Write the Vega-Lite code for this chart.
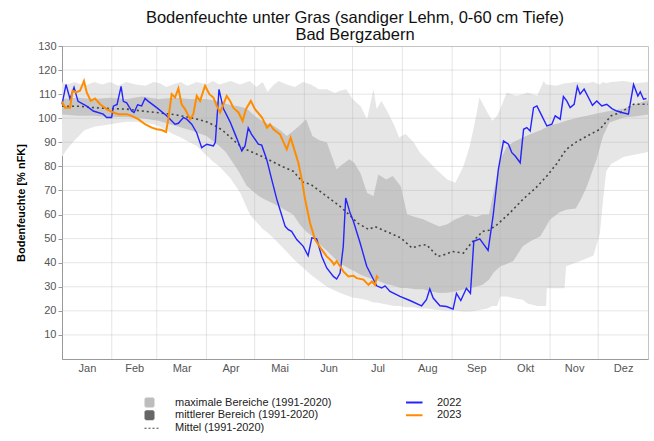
{
  "$schema": "https://vega.github.io/schema/vega-lite/v6.json",
  "autosize": "none",
  "width": 586,
  "height": 313,
  "padding": {"left": 62, "top": 46, "right": 6, "bottom": 82},
  "background": "white",
  "title": {
    "text": ["Bodenfeuchte unter Gras (sandiger Lehm, 0-60 cm Tiefe)", "Bad Bergzabern"],
    "fontSize": 16.5, "fontWeight": "normal", "font": "Liberation Sans", "color": "#111",
    "lineHeight": 17, "anchor": "middle", "offset": -3
  },
  "config": {
    "font": "Liberation Sans",
    "view": {"stroke": "#c4c4c4", "strokeWidth": 1},
    "axisY": {"labelOverlap": false}
  },
  "datasets": {
    "vgrid": [{"day": 31}, {"day": 59}, {"day": 90}, {"day": 120}, {"day": 151}, {"day": 181}, {"day": 212}, {"day": 243}, {"day": 273}, {"day": 304}, {"day": 334}],
    "hgrid": [{"v": 10}, {"v": 20}, {"v": 30}, {"v": 40}, {"v": 50}, {"v": 60}, {"v": 70}, {"v": 80}, {"v": 90}, {"v": 100}, {"v": 110}, {"v": 120}],
    "maxr": [
      {"day": 0, "v": 84, "hi": 115}, {"day": 3, "v": 87, "hi": 114}, {"day": 8, "v": 91, "hi": 115},
      {"day": 14, "v": 95, "hi": 113.5}, {"day": 20, "v": 96.5, "hi": 115}, {"day": 25, "v": 97, "hi": 114},
      {"day": 30, "v": 97.5, "hi": 115}, {"day": 35, "v": 98, "hi": 113.5}, {"day": 40, "v": 98.5, "hi": 115},
      {"day": 46, "v": 98.5, "hi": 114}, {"day": 52, "v": 98, "hi": 113.5}, {"day": 57, "v": 97.5, "hi": 115},
      {"day": 61, "v": 96.5, "hi": 114.5}, {"day": 65, "v": 95, "hi": 113}, {"day": 69, "v": 93.5, "hi": 114},
      {"day": 74, "v": 92, "hi": 115}, {"day": 78, "v": 90.5, "hi": 113.5}, {"day": 84, "v": 88.5, "hi": 115},
      {"day": 90, "v": 84.5, "hi": 114}, {"day": 94, "v": 82, "hi": 115.5}, {"day": 98, "v": 80, "hi": 114},
      {"day": 105, "v": 75, "hi": 115.5}, {"day": 111, "v": 69, "hi": 114}, {"day": 117, "v": 60, "hi": 115.5},
      {"day": 121, "v": 57, "hi": 113}, {"day": 125, "v": 54, "hi": 115}, {"day": 128, "v": 52.5, "hi": 111},
      {"day": 132, "v": 50, "hi": 114}, {"day": 135, "v": 48, "hi": 115.5}, {"day": 140, "v": 44.5, "hi": 114},
      {"day": 145, "v": 41, "hi": 113}, {"day": 150, "v": 38, "hi": 115}, {"day": 155, "v": 35, "hi": 114},
      {"day": 160, "v": 32.5, "hi": 112}, {"day": 165, "v": 30, "hi": 112}, {"day": 170, "v": 28.5, "hi": 110.5},
      {"day": 173, "v": 27.5, "hi": 111.4}, {"day": 177, "v": 26.5, "hi": 112}, {"day": 181, "v": 25.5, "hi": 108},
      {"day": 186, "v": 25, "hi": 105}, {"day": 190, "v": 24.5, "hi": 99.6}, {"day": 194, "v": 23.5, "hi": 112},
      {"day": 196, "v": 23.5, "hi": 103.8}, {"day": 199, "v": 23, "hi": 107.2}, {"day": 203, "v": 22.5, "hi": 102.4},
      {"day": 207, "v": 22, "hi": 97}, {"day": 210, "v": 22, "hi": 92}, {"day": 214, "v": 21.5, "hi": 93.4},
      {"day": 219, "v": 21.5, "hi": 90}, {"day": 223, "v": 21, "hi": 85.7}, {"day": 227, "v": 21, "hi": 83},
      {"day": 233, "v": 20.5, "hi": 78.8}, {"day": 240, "v": 20, "hi": 74.6}, {"day": 245, "v": 20, "hi": 73.2},
      {"day": 250, "v": 19.7, "hi": 80}, {"day": 254, "v": 19.7, "hi": 88.5}, {"day": 258, "v": 20, "hi": 101},
      {"day": 260, "v": 20.4, "hi": 108.6}, {"day": 265, "v": 21, "hi": 102.4}, {"day": 268, "v": 22, "hi": 99},
      {"day": 271, "v": 22, "hi": 101}, {"day": 273, "v": 26, "hi": 103.8}, {"day": 277, "v": 26, "hi": 110.7},
      {"day": 283, "v": 25, "hi": 109.3}, {"day": 287, "v": 24.6, "hi": 110}, {"day": 290, "v": 23, "hi": 110.7},
      {"day": 296, "v": 22, "hi": 109.3}, {"day": 300, "v": 22, "hi": 115.5}, {"day": 301.5, "v": 22, "hi": 114},
      {"day": 302, "v": 29.4, "hi": 114}, {"day": 308, "v": 29.4, "hi": 113.5}, {"day": 313, "v": 29.4, "hi": 114.5},
      {"day": 314, "v": 38.5, "hi": 114.5}, {"day": 320, "v": 40, "hi": 115}, {"day": 326, "v": 41.5, "hi": 114.5},
      {"day": 331, "v": 43, "hi": 115}, {"day": 335, "v": 52, "hi": 114}, {"day": 337, "v": 66, "hi": 115},
      {"day": 339, "v": 78, "hi": 114.5}, {"day": 342, "v": 81, "hi": 115}, {"day": 350, "v": 84, "hi": 115.5},
      {"day": 358, "v": 85, "hi": 114.5}, {"day": 365, "v": 86, "hi": 115}
    ],
    "midr": [
      {"day": 0, "v": 101.5, "hi": 108}, {"day": 10, "v": 101, "hi": 108.5}, {"day": 20, "v": 101, "hi": 108},
      {"day": 30, "v": 100.5, "hi": 108.5}, {"day": 40, "v": 100.5, "hi": 108}, {"day": 50, "v": 100, "hi": 109},
      {"day": 60, "v": 99, "hi": 108}, {"day": 70, "v": 97, "hi": 108.5}, {"day": 80, "v": 95, "hi": 108},
      {"day": 90, "v": 92.6, "hi": 108}, {"day": 98, "v": 88.5, "hi": 107}, {"day": 102, "v": 86, "hi": 106},
      {"day": 105, "v": 83, "hi": 105.5}, {"day": 110, "v": 78, "hi": 105}, {"day": 115, "v": 72, "hi": 104},
      {"day": 120, "v": 69, "hi": 101}, {"day": 123, "v": 67.5, "hi": 99.6}, {"day": 127, "v": 66, "hi": 98},
      {"day": 132, "v": 64.5, "hi": 96.8}, {"day": 136, "v": 63, "hi": 95}, {"day": 140, "v": 61.5, "hi": 92.6},
      {"day": 144, "v": 60, "hi": 94.7}, {"day": 148, "v": 56, "hi": 97}, {"day": 152, "v": 53, "hi": 99.6},
      {"day": 156, "v": 51, "hi": 92.6}, {"day": 160, "v": 48, "hi": 91}, {"day": 165, "v": 45, "hi": 89.9},
      {"day": 171, "v": 41, "hi": 78.8}, {"day": 175, "v": 39, "hi": 81}, {"day": 179, "v": 37.5, "hi": 83},
      {"day": 182, "v": 36.5, "hi": 81.5}, {"day": 186, "v": 35, "hi": 77}, {"day": 190, "v": 34, "hi": 69},
      {"day": 194, "v": 33, "hi": 67.6}, {"day": 197, "v": 32.5, "hi": 76.6}, {"day": 202, "v": 31, "hi": 74.6},
      {"day": 206, "v": 30.5, "hi": 76}, {"day": 211, "v": 29.5, "hi": 71.8}, {"day": 215, "v": 29.5, "hi": 60},
      {"day": 220, "v": 29, "hi": 59}, {"day": 225, "v": 29, "hi": 58}, {"day": 230, "v": 28, "hi": 56.5},
      {"day": 235, "v": 27.4, "hi": 55}, {"day": 240, "v": 27.5, "hi": 56}, {"day": 245, "v": 28, "hi": 58},
      {"day": 252, "v": 29.2, "hi": 60}, {"day": 258, "v": 30, "hi": 59}, {"day": 262, "v": 30.8, "hi": 60},
      {"day": 266, "v": 33, "hi": 60}, {"day": 269, "v": 36, "hi": 70}, {"day": 273, "v": 38.5, "hi": 83},
      {"day": 277, "v": 39.5, "hi": 88}, {"day": 281, "v": 40.6, "hi": 90}, {"day": 287, "v": 46.8, "hi": 92},
      {"day": 292, "v": 49, "hi": 93.5}, {"day": 298, "v": 51, "hi": 95}, {"day": 304, "v": 57.9, "hi": 97},
      {"day": 310, "v": 61, "hi": 98}, {"day": 314, "v": 62, "hi": 99}, {"day": 320, "v": 62.5, "hi": 100},
      {"day": 323, "v": 66, "hi": 100.5}, {"day": 327, "v": 71.8, "hi": 101}, {"day": 333, "v": 83, "hi": 102},
      {"day": 337, "v": 92.6, "hi": 102.5}, {"day": 341, "v": 98.2, "hi": 103}, {"day": 350, "v": 100.3, "hi": 104},
      {"day": 358, "v": 100.8, "hi": 106}, {"day": 365, "v": 101.5, "hi": 107.5}
    ],
    "mean": [
      {"day": 0, "v": 105}, {"day": 10, "v": 105}, {"day": 20, "v": 104.4}, {"day": 30, "v": 104},
      {"day": 40, "v": 103.8}, {"day": 50, "v": 103}, {"day": 60, "v": 102.3}, {"day": 70, "v": 101.5},
      {"day": 78, "v": 100.5}, {"day": 85, "v": 99.5}, {"day": 90, "v": 98.5}, {"day": 95, "v": 97},
      {"day": 100, "v": 95}, {"day": 105, "v": 92}, {"day": 110, "v": 89}, {"day": 113, "v": 87.5},
      {"day": 120, "v": 85.5}, {"day": 125, "v": 84}, {"day": 131, "v": 82}, {"day": 137, "v": 80},
      {"day": 144, "v": 78}, {"day": 150, "v": 73.5}, {"day": 155, "v": 72.5}, {"day": 162, "v": 69},
      {"day": 168, "v": 66}, {"day": 173, "v": 63.5}, {"day": 178, "v": 60.5}, {"day": 184, "v": 56.5},
      {"day": 191, "v": 53.8}, {"day": 195, "v": 55}, {"day": 200, "v": 53.5}, {"day": 204, "v": 52.4},
      {"day": 211, "v": 50.3}, {"day": 218, "v": 46.1}, {"day": 222, "v": 47}, {"day": 227, "v": 47.5},
      {"day": 234, "v": 42.6}, {"day": 239, "v": 43.5}, {"day": 243, "v": 44.7}, {"day": 250, "v": 44},
      {"day": 255, "v": 48.2}, {"day": 262, "v": 53}, {"day": 266, "v": 53.5}, {"day": 271, "v": 55.8},
      {"day": 279, "v": 60.7}, {"day": 287, "v": 66.25}, {"day": 295, "v": 71}, {"day": 302, "v": 76},
      {"day": 308, "v": 81}, {"day": 314, "v": 87}, {"day": 320, "v": 90}, {"day": 327, "v": 92.6},
      {"day": 335, "v": 95.4}, {"day": 342, "v": 101}, {"day": 348, "v": 102.4}, {"day": 356, "v": 105.8},
      {"day": 365, "v": 105.8}
    ],
    "y2022": [
      {"day": 0, "v": 105.8}, {"day": 2.5, "v": 114}, {"day": 5, "v": 108}, {"day": 7.5, "v": 112.8},
      {"day": 10, "v": 107}, {"day": 15.4, "v": 105}, {"day": 19.5, "v": 103}, {"day": 25.7, "v": 101.7},
      {"day": 27.8, "v": 100.3}, {"day": 30.9, "v": 100.3}, {"day": 32, "v": 105}, {"day": 34.3, "v": 105.7},
      {"day": 36.8, "v": 113.2}, {"day": 38.2, "v": 107}, {"day": 40.3, "v": 106.4}, {"day": 43.4, "v": 103},
      {"day": 44.9, "v": 102.4}, {"day": 47.1, "v": 105.6}, {"day": 49.6, "v": 105.1}, {"day": 51.7, "v": 108.2},
      {"day": 53.8, "v": 107}, {"day": 59, "v": 104.4}, {"day": 65.2, "v": 101}, {"day": 70.4, "v": 97.5},
      {"day": 72.5, "v": 97.9}, {"day": 75.6, "v": 100.3}, {"day": 77.7, "v": 99.6}, {"day": 80.8, "v": 97.5},
      {"day": 83.9, "v": 94}, {"day": 87, "v": 87.8}, {"day": 90.2, "v": 89.2}, {"day": 94.3, "v": 88.5},
      {"day": 95.5, "v": 90}, {"day": 97.8, "v": 112}, {"day": 100.5, "v": 104}, {"day": 104.7, "v": 98.5},
      {"day": 107.8, "v": 93.4}, {"day": 112, "v": 86.4}, {"day": 114, "v": 88.5}, {"day": 116, "v": 96},
      {"day": 118, "v": 93.4}, {"day": 122.3, "v": 89.2}, {"day": 124.4, "v": 88.8}, {"day": 127.5, "v": 82.9},
      {"day": 130.6, "v": 74.6}, {"day": 133.8, "v": 66.3}, {"day": 135.8, "v": 62}, {"day": 139, "v": 55.1},
      {"day": 141, "v": 53.7}, {"day": 143, "v": 53}, {"day": 146.2, "v": 49.6}, {"day": 150.3, "v": 46.8},
      {"day": 153.3, "v": 42.9}, {"day": 155.6, "v": 50.3}, {"day": 158.6, "v": 49.9}, {"day": 161.8, "v": 42.6},
      {"day": 164.9, "v": 37.8}, {"day": 169, "v": 34.3}, {"day": 171.1, "v": 33.2}, {"day": 173.2, "v": 35.7},
      {"day": 175.2, "v": 46.8}, {"day": 176.7, "v": 66.9}, {"day": 179.4, "v": 60.7}, {"day": 181.5, "v": 57.2},
      {"day": 185.7, "v": 48.2}, {"day": 189.8, "v": 38.5}, {"day": 194, "v": 33}, {"day": 196, "v": 30.4},
      {"day": 199.1, "v": 29.5}, {"day": 201.2, "v": 30.4}, {"day": 204.3, "v": 28.1}, {"day": 210.5, "v": 26},
      {"day": 216.7, "v": 24.3}, {"day": 224, "v": 22.1}, {"day": 227, "v": 24.6}, {"day": 229.1, "v": 29.1},
      {"day": 231.2, "v": 25.3}, {"day": 235.4, "v": 22.1}, {"day": 239.5, "v": 21.8}, {"day": 243.6, "v": 20.7},
      {"day": 245.7, "v": 27.3}, {"day": 248.4, "v": 24.3}, {"day": 251.9, "v": 29.4}, {"day": 254.4, "v": 27.3},
      {"day": 256.5, "v": 48.9}, {"day": 260.2, "v": 49.9}, {"day": 265.4, "v": 45.1}, {"day": 268.5, "v": 59.3},
      {"day": 271.8, "v": 78.8}, {"day": 275, "v": 90.6}, {"day": 278.1, "v": 89.2}, {"day": 280.2, "v": 85.7},
      {"day": 282.3, "v": 84.3}, {"day": 285.4, "v": 81.5}, {"day": 287.5, "v": 95.4}, {"day": 289.5, "v": 96.1},
      {"day": 291.6, "v": 94.7}, {"day": 293.7, "v": 104.4}, {"day": 295.8, "v": 105.1}, {"day": 298.9, "v": 101},
      {"day": 302, "v": 96.8}, {"day": 305.1, "v": 97.5}, {"day": 307.2, "v": 101}, {"day": 310.3, "v": 99.6},
      {"day": 312.3, "v": 109}, {"day": 314.4, "v": 107.2}, {"day": 316.5, "v": 104.4}, {"day": 319, "v": 105.8},
      {"day": 321, "v": 113.2}, {"day": 322.7, "v": 110}, {"day": 325.2, "v": 112.1}, {"day": 327.9, "v": 108.6},
      {"day": 330.4, "v": 105.4}, {"day": 333.1, "v": 107.2}, {"day": 336.2, "v": 105.1}, {"day": 339.3, "v": 105.8},
      {"day": 342.5, "v": 104}, {"day": 345.6, "v": 103}, {"day": 348.7, "v": 102.4}, {"day": 352.8, "v": 101.7},
      {"day": 356, "v": 114}, {"day": 358.7, "v": 109.2}, {"day": 360.2, "v": 111}, {"day": 362.2, "v": 107.9},
      {"day": 364, "v": 108.2}
    ],
    "y2023": [
      {"day": 0, "v": 107}, {"day": 1.9, "v": 104.4}, {"day": 5, "v": 104.4}, {"day": 6.6, "v": 111.4},
      {"day": 8.7, "v": 110.7}, {"day": 11.2, "v": 111.4}, {"day": 13.7, "v": 115.5}, {"day": 15.4, "v": 110.7},
      {"day": 17.9, "v": 107.2}, {"day": 20.6, "v": 108.2}, {"day": 23.7, "v": 105.8}, {"day": 27.8, "v": 103.8},
      {"day": 32, "v": 102.4}, {"day": 35.1, "v": 101.7}, {"day": 40.3, "v": 101.7}, {"day": 43.4, "v": 101},
      {"day": 47.5, "v": 99.6}, {"day": 51.7, "v": 97.5}, {"day": 55.9, "v": 96.1}, {"day": 59, "v": 95.4},
      {"day": 62.1, "v": 95.1}, {"day": 64.8, "v": 94.3}, {"day": 66.2, "v": 99.6}, {"day": 68.3, "v": 110},
      {"day": 70.4, "v": 108.6}, {"day": 72.5, "v": 112.4}, {"day": 74.5, "v": 105.8}, {"day": 76.6, "v": 103.8},
      {"day": 79.8, "v": 99.6}, {"day": 81.8, "v": 101.7}, {"day": 83.9, "v": 109.3}, {"day": 86, "v": 107.2},
      {"day": 89.1, "v": 113.5}, {"day": 91.8, "v": 110}, {"day": 94.3, "v": 108.6}, {"day": 96.4, "v": 105.1},
      {"day": 98.5, "v": 102.4}, {"day": 100.5, "v": 105.8}, {"day": 102.6, "v": 109.3}, {"day": 104.7, "v": 107.2},
      {"day": 106.7, "v": 104.4}, {"day": 109.9, "v": 102.4}, {"day": 112.5, "v": 98.9}, {"day": 114.6, "v": 103.8},
      {"day": 117.6, "v": 107.2}, {"day": 120.2, "v": 103.8}, {"day": 124.6, "v": 100.3}, {"day": 127.7, "v": 96.1},
      {"day": 129.6, "v": 97.5}, {"day": 131.7, "v": 95.4}, {"day": 135.8, "v": 93.3}, {"day": 140, "v": 87.1},
      {"day": 142.4, "v": 91.9}, {"day": 144, "v": 88.5}, {"day": 147.2, "v": 81.5}, {"day": 149.5, "v": 74},
      {"day": 151.4, "v": 66.3}, {"day": 154.5, "v": 56.5}, {"day": 157.6, "v": 49.6}, {"day": 161.8, "v": 45.4},
      {"day": 164.9, "v": 42.6}, {"day": 168, "v": 40.6}, {"day": 169.4, "v": 39.2}, {"day": 171.1, "v": 40.6},
      {"day": 173.2, "v": 38.5}, {"day": 175.2, "v": 36.4}, {"day": 178.4, "v": 34.3}, {"day": 181.5, "v": 34.6},
      {"day": 183.6, "v": 33.6}, {"day": 187.7, "v": 33}, {"day": 190.9, "v": 30.8}, {"day": 193, "v": 32.2},
      {"day": 195, "v": 30.8}, {"day": 196.1, "v": 34.3}, {"day": 197, "v": 33.6}
    ]
  },
  "encoding": {
    "x": {
      "field": "day", "type": "quantitative",
      "scale": {"domain": [0, 365], "nice": false, "zero": false},
      "axis": {
        "title": null, "grid": false,
        "values": [15.5, 45, 74.5, 105, 135.5, 166, 196.5, 227.5, 258, 288.5, 319, 349.5],
        "labelExpr": "['Jan','Feb','Mar','Apr','Mai','Jun','Jul','Aug','Sep','Okt','Nov','Dez'][floor(datum.value/30.5)]",
        "labelOverlap": false, "labelFlush": false, "labelBound": false,
        "labelFontSize": 11, "labelColor": "#555", "labelFont": "Liberation Sans",
        "tickSize": 0, "labelPadding": 3, "domainColor": "#999"
      }
    },
    "y": {
      "field": "v", "type": "quantitative",
      "scale": {"domain": [0, 130], "nice": false, "zero": false},
      "axis": {
        "title": "Bodenfeuchte [% nFK]", "grid": false,
        "titleFontWeight": "bold", "titleFontSize": 11, "titleColor": "#000", "titlePadding": 11,
        "values": [10, 20, 30, 40, 50, 60, 70, 80, 90, 100, 110, 120, 130],
        "labelOverlap": false, "labelFlush": false, "labelSeparation": 0,
        "labelFontSize": 11, "labelColor": "#555", "labelFont": "Liberation Sans",
        "tickSize": 4, "tickColor": "#999", "domainColor": "#999", "labelPadding": 2
      }
    }
  },
  "layer": [
    {
      "data": {"name": "maxr"},
      "mark": {"type": "area", "fill": "#e6e6e6"},
      "encoding": {
        "y2": {"field": "hi"},
        "color": {"datum": "maximale Bereiche (1991-2020)"}
      }
    },
    {
      "data": {"name": "midr"},
      "mark": {"type": "area", "fill": "#c6c6c6"},
      "encoding": {
        "y2": {"field": "hi"},
        "color": {"datum": "mittlerer Bereich (1991-2020)"}
      }
    },
    {
      "data": {"name": "vgrid"},
      "mark": {"type": "rule", "stroke": "#b4b4b4", "strokeWidth": 1, "opacity": 0.35},
      "encoding": {"y": {"value": 0}, "y2": {"value": 313}}
    },
    {
      "data": {"name": "hgrid"},
      "mark": {"type": "rule", "stroke": "#b4b4b4", "strokeWidth": 1, "opacity": 0.35},
      "encoding": {"x": {"value": 0}, "x2": {"value": 586}}
    },
    {
      "data": {"name": "mean"},
      "mark": {"type": "line", "strokeDash": [2, 3], "strokeWidth": 1.6},
      "encoding": {
        "color": {"datum": "Mittel (1991-2020)"}
      }
    },
    {
      "data": {"name": "y2022"},
      "mark": {"type": "line", "strokeWidth": 1.4},
      "encoding": {
        "color": {"datum": "2022"}
      }
    },
    {
      "data": {"name": "y2023"},
      "mark": {"type": "line", "strokeWidth": 2},
      "encoding": {
        "color": {
          "datum": "2023",
          "scale": {
            "domain": ["maximale Bereiche (1991-2020)", "mittlerer Bereich (1991-2020)", "Mittel (1991-2020)", "2022", "2023"],
            "range": ["#bdbdbd", "#666666", "#444444", "#2424ff", "#ff8c00"]
          },
          "legend": {
            "title": null, "orient": "none", "legendX": 82, "legendY": 350,
            "columns": 2, "columnPadding": 74, "rowPadding": 0, "padding": 0, "clipHeight": 12.5,
            "symbolSize": 64, "labelOffset": 20, "labelFontSize": 11, "labelColor": "#222", "labelFont": "Liberation Sans",
            "encode": {
              "symbols": {
                "update": {
                  "shape": {"signal": "(datum.value == '2022' || datum.value == '2023' || datum.value == 'Mittel (1991-2020)') ? 'stroke' : 'square'"},
                  "size": {"signal": "(datum.value == '2022' || datum.value == '2023') ? 484 : (datum.value == 'Mittel (1991-2020)' ? 324 : 64)"},
                  "fill": {"signal": "datum.value == 'maximale Bereiche (1991-2020)' ? '#bdbdbd' : (datum.value == 'mittlerer Bereich (1991-2020)' ? '#666666' : 'transparent')"},
                  "stroke": {"signal": "datum.value == '2022' ? '#8c8cff' : (datum.value == '2023' ? '#ff9a1a' : (datum.value == 'Mittel (1991-2020)' ? '#444444' : 'transparent'))"},
                  "strokeDash": {"signal": "datum.value == 'Mittel (1991-2020)' ? [2, 2] : [1, 0]"},
                  "strokeWidth": {"signal": "datum.value == 'Mittel (1991-2020)' ? 1 : 2"},
                  "opacity": {"value": 1}
                }
              }
            }
          }
        }
      }
    }
  ]
}
